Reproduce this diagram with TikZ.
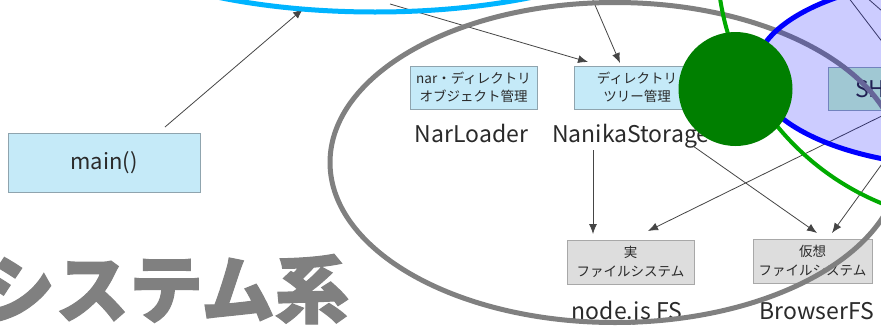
\documentclass[tikz,border=0pt]{standalone}
\usepackage{fontspec}
\setmainfont{Noto Sans CJK JP}
\newfontfamily\titlefont[FakeBold=1.6]{Noto Sans CJK JP}
\usetikzlibrary{arrows.meta}
\definecolor{boxblue}{HTML}{C5EAF8}
\definecolor{boxgray}{HTML}{DDDDDD}
\definecolor{shfill}{HTML}{C8FAC9}
\definecolor{bordblue}{HTML}{8FA4AE}
\definecolor{bordgray}{HTML}{A8A8A8}
\definecolor{txt}{HTML}{2A2A2A}
\definecolor{linec}{HTML}{454545}
\definecolor{cyanring}{HTML}{00B4FF}
\definecolor{grayring}{HTML}{808080}
\definecolor{greenring}{HTML}{00AA00}
\definecolor{greendot}{HTML}{007F00}
\tikzset{
  bbox/.style={draw=bordblue, fill=boxblue, line width=1pt, inner sep=0pt, text=txt, align=center, font=\fontsize{13.5}{18}\selectfont},
  gbox/.style={draw=bordgray, fill=boxgray, line width=1pt, inner sep=0pt, text=txt, align=center, font=\fontsize{13.5}{19}\selectfont},
  lbl/.style={inner sep=0pt, text=txt, font=\fontsize{23}{23}\selectfont},
  conn/.style={draw=linec, line width=0.8pt, -{Latex[length=10pt,width=8pt]}},
  plain/.style={draw=linec, line width=0.8pt},
  ring/.style={line width=5pt}
}
\begin{document}
\begin{tikzpicture}[x=1pt,y=-1pt]
\useasboundingbox (0,0) rectangle (881,327);
\clip (0,0) rectangle (881,327);
\fill[white] (0,0) rectangle (881,327);

% title
\node[inner sep=0pt, anchor=base west, text=grayring, font=\fontsize{74}{74}\titlefont\bfseries] (title) at (-19,317) {システム系};

% boxes
\node[bbox, minimum width=192pt, minimum height=59pt, font=\fontsize{22}{22}\selectfont] (main) at (104,162.5) {main()};
\node[bbox, minimum width=127pt, minimum height=43pt] (nar) at (473.5,87.5) {nar・ディレクトリ\\オブジェクト管理};
\node[bbox, minimum width=126pt, minimum height=43pt] (ns) at (637,87.5) {ディレクトリ\\ツリー管理};
\node[gbox, minimum width=127pt, minimum height=44pt] (nfs) at (630.5,262) {実\\ファイルシステム};
\node[gbox, minimum width=119pt, minimum height=44pt] (bfs) at (812.5,261) {仮想\\ファイルシステム};
\node[bbox, fill=shfill, minimum width=104pt, minimum height=43pt, anchor=north west] (sh) at (828,67) {};
\node[lbl, anchor=west] (shtext) at (855,89) {SH};

% labels
\node[lbl, anchor=base] (narl) at (471.5,142) {NarLoader};
\node[lbl, anchor=base west] (nsl) at (552,142) {NanikaStorage};
\node[lbl, anchor=base] (nfsl) at (627,319) {node.js FS};
\node[lbl, anchor=base] (bfsl) at (817,319) {BrowserFS};

% connector end points
\coordinate (mainout) at (165,127);
\coordinate (topin) at (303,9);
\coordinate (t1) at (390,4);
\coordinate (t2) at (592,-2);
\coordinate (ns1) at (588,62);
\coordinate (ns2) at (620,63);
\coordinate (nsa) at (593,150);
\coordinate (nsb) at (693,146);
\coordinate (shA) at (898,108);
\coordinate (shB) at (921,110);
\coordinate (nfs1) at (593,234);
\coordinate (nfs2) at (648,231);
\coordinate (bfs1) at (817,233);
\coordinate (bfs2) at (832,233);
\coordinate (u1) at (848,-3);
\coordinate (u1e) at (890,52);
\coordinate (u2) at (866,-3);
\coordinate (u2e) at (890,18);

% connectors
\draw[conn] (mainout) -- (topin);
\draw[conn] (t1) -- (ns1);
\draw[conn] (t2) -- (ns2);
\draw[conn] (nsa) -- (nfs1);
\draw[conn] (nsb) -- (bfs1);
\draw[conn] (shA) -- (nfs2);
\draw[conn] (shB) -- (bfs2);
\draw[plain] (u1) -- (u1e);
\draw[plain] (u2) -- (u2e);

% rings
\draw[cyanring, ring] (375,-88) ellipse [x radius=300, y radius=100];
\draw[grayring, ring] (615,162.5) ellipse [x radius=285, y radius=160];
\draw[blue, ring, fill=blue, fill opacity=0.2] (970,72) ellipse [x radius=215, y radius=95];
\draw[greenring, line width=4pt] (982,-42) circle [radius=265];
\fill[greendot] (735.5,89) circle [radius=57];
\end{tikzpicture}
\end{document}
